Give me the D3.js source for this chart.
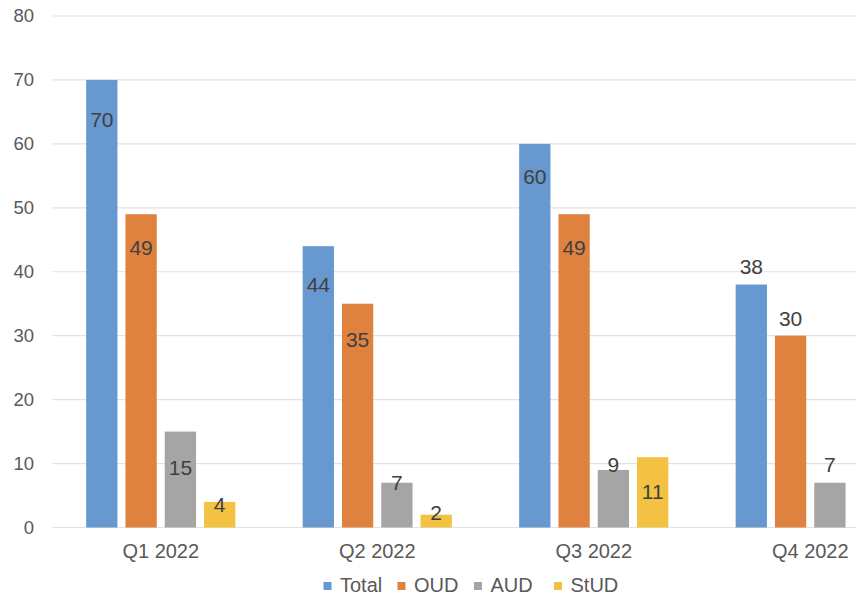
<!DOCTYPE html>
<html>
<head>
<meta charset="utf-8">
<script src="https://cdn.jsdelivr.net/npm/d3@7"></script>
<style>
  html, body { margin: 0; padding: 0; background: #fff; }
  svg { display: block; font-family: "Liberation Sans", Arial, Helvetica, sans-serif; }
</style>
</head>
<body>
<svg id="chart" width="856" height="597"></svg>
<script>
// Quarterly counts by diagnosis group
const categories = ["Q1 2022", "Q2 2022", "Q3 2022", "Q4 2022"];
const seriesNames = ["Total", "OUD", "AUD", "StUD"];
const totalValues = [70, 44, 60, 38];
const oudValues = [49, 35, 49, 30];
const audValues = [15, 7, 9, 7];
const studValues = [4, 2, 11, null];
const yTicks = [0, 10, 20, 30, 40, 50, 60, 70, 80];

// Layout: vertical placement of each value label relative to its bar top (px, + = down)
const labelShift = {
  Total: [40, 38, 33, -18],
  OUD: [33, 36, 33, -17],
  AUD: [36, 0, -6, -18],
  StUD: [3, -2, 34, 0]
};
const colors = { Total: "#6898D0", OUD: "#E0823F", AUD: "#A5A5A5", StUD: "#F4C242" };

const seriesValues = { Total: totalValues, OUD: oudValues, AUD: audValues, StUD: studValues };

const svg = d3.select("#chart");
const W = 856, H = 597;
const plotLeft = 52.5, bandStep = 216.5;
const yTop = 16, yBottom = 527.5;

const x0 = d3.scaleBand()
  .domain(categories)
  .range([plotLeft, plotLeft + bandStep * categories.length])
  .paddingInner(0.311)
  .paddingOuter(0.1555);

const x1 = d3.scaleBand()
  .domain(seriesNames)
  .range([0, x0.bandwidth()])
  .paddingInner(0.2036);

const y = d3.scaleLinear().domain([0, 80]).range([yBottom, yTop]);

// Gridlines
svg.append("g")
  .selectAll("line")
  .data(yTicks)
  .join("line")
  .attr("x1", plotLeft)
  .attr("x2", W)
  .attr("y1", d => y(d))
  .attr("y2", d => y(d))
  .attr("stroke", "#e2e2e2")
  .attr("stroke-width", 1.2);

// Y axis labels
const yAxis = d3.axisLeft(y).tickValues(yTicks).tickSize(0).tickPadding(0);
const gy = svg.append("g").attr("transform", `translate(34,0)`).call(yAxis);
gy.select(".domain").remove();
gy.selectAll("text")
  .attr("font-size", 18.5)
  .attr("fill", "#595959")
  .attr("font-family", "'Liberation Sans', Arial, sans-serif");

// X axis labels
const xAxis = d3.axisBottom(x0).tickSize(0).tickPadding(0);
const gx = svg.append("g").attr("transform", `translate(0,${yBottom + 16})`).call(xAxis);
gx.select(".domain").remove();
gx.selectAll("text")
  .attr("font-size", 20)
  .attr("fill", "#595959")
  .attr("font-family", "'Liberation Sans', Arial, sans-serif");

// Bars
const rows = [];
categories.forEach((c, i) => {
  seriesNames.forEach(s => {
    const v = seriesValues[s][i];
    if (v !== null && v !== undefined) rows.push({ cat: c, i, series: s, value: v });
  });
});

const bars = svg.append("g");
bars.selectAll("rect")
  .data(rows)
  .join("rect")
  .attr("x", d => x0(d.cat) + x1(d.series))
  .attr("width", x1.bandwidth())
  .attr("y", d => y(d.value))
  .attr("height", d => y(0) - y(d.value))
  .attr("fill", d => colors[d.series]);

// Value labels
svg.append("g")
  .selectAll("text")
  .data(rows)
  .join("text")
  .attr("x", d => x0(d.cat) + x1(d.series) + x1.bandwidth() / 2)
  .attr("y", d => y(d.value) + labelShift[d.series][d.i])
  .attr("dy", "0.36em")
  .attr("text-anchor", "middle")
  .attr("font-size", 21)
  .attr("fill", "#404040")
  .text(d => d.value);

// Legend
const legendX = [323.5, 397.5, 474, 554];
const legend = svg.append("g");
seriesNames.forEach((s, k) => {
  const g = legend.append("g").attr("transform", `translate(${legendX[k]},585)`);
  g.append("rect").attr("x", 0).attr("y", -3).attr("width", 8).attr("height", 8).attr("fill", colors[s]);
  g.append("text")
    .attr("x", 16.5)
    .attr("y", 0)
    .attr("dy", "0.36em")
    .attr("font-size", 20)
    .attr("fill", "#595959")
    .text(s);
});
</script>
</body>
</html>
